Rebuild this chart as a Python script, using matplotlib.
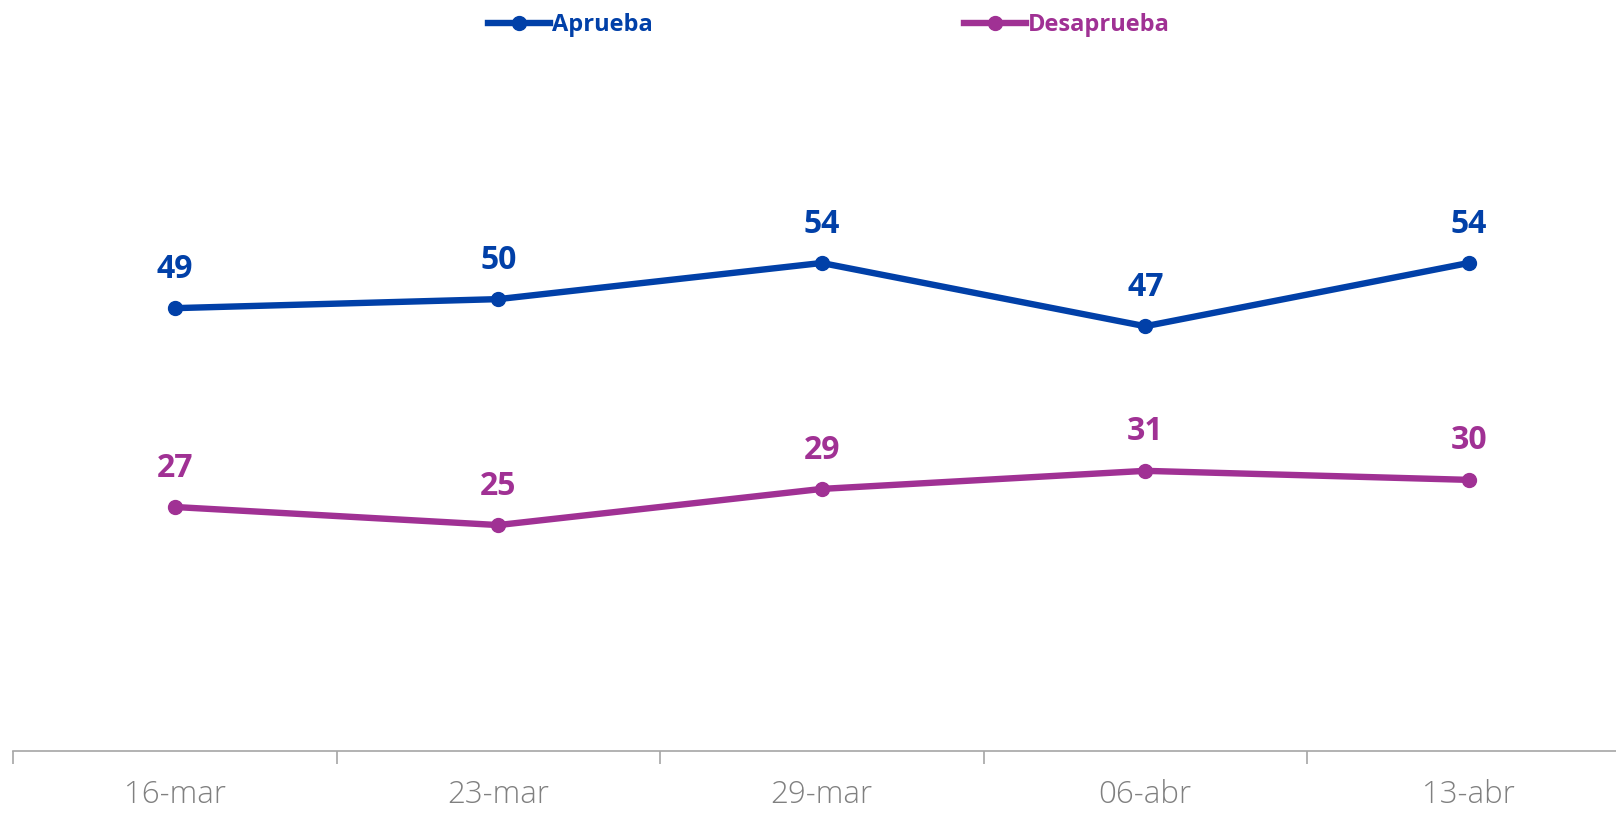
import matplotlib.pyplot as plt
from matplotlib.lines import Line2D

# Chart data
FECHAS = ["16-mar", "23-mar", "29-mar", "06-abr", "13-abr"]
APRUEBA = [49, 50, 54, 47, 54]
DESAPRUEBA = [27, 25, 29, 31, 30]

AZUL = "#0140A8"
MORADO = "#A03194"
GRIS = "#808080"

plt.rcParams['font.family'] = ['Open Sans', 'DejaVu Sans']

fig = plt.figure(figsize=(16.16, 8.14), dpi=100)
ax = fig.add_axes([13 / 1616, 63 / 814, 5 * 323.5 / 1616, 723 / 814])

x = list(range(len(FECHAS)))
series = [("Aprueba", APRUEBA, AZUL), ("Desaprueba", DESAPRUEBA, MORADO)]
for name, vals, color in series:
    ax.plot(x, vals, color=color, linewidth=4.6, marker='o', markersize=10,
            solid_capstyle='round', label=name, zorder=3)
    for xi, v in zip(x, vals):
        ax.annotate(str(v), (xi, v), xytext=(0, 28), textcoords='offset points',
                    ha='center', va='center', fontsize=23, fontweight='bold',
                    color=color)

ax.set_xlim(-0.5, len(FECHAS) - 0.5)
ax.set_ylim(0, 80)

for side in ['top', 'right', 'left']:
    ax.spines[side].set_visible(False)
ax.spines['bottom'].set_color('#A6A6A6')
ax.spines['bottom'].set_linewidth(1.2)
ax.set_yticks([])

ax.set_xticks(x)
ax.set_xticklabels(FECHAS)
ax.tick_params(axis='x', which='major', length=0, pad=20, labelsize=22.5,
               labelcolor=GRIS)
ax.set_xticks([i - 0.5 for i in range(len(FECHAS) + 1)], minor=True)
ax.tick_params(axis='x', which='minor', length=9, width=1.2, color='#A6A6A6',
               direction='out')
for lbl in ax.get_xticklabels():
    lbl.set_fontweight('light')

handles = [Line2D([0], [0], color=c, linewidth=4.6, marker='o', markersize=10)
           for _, _, c in series]
leg = fig.legend(handles, [n for n, _, _ in series], loc='center',
                 bbox_to_anchor=(0.513, 1 - 25 / 814), ncol=2, frameon=False,
                 handlelength=2.6, handletextpad=0.1, columnspacing=13.2,
                 prop={'size': 17, 'weight': 'bold'})
for txt, (_, _, c) in zip(leg.get_texts(), series):
    txt.set_color(c)

fig.savefig('out.png', dpi=100)
